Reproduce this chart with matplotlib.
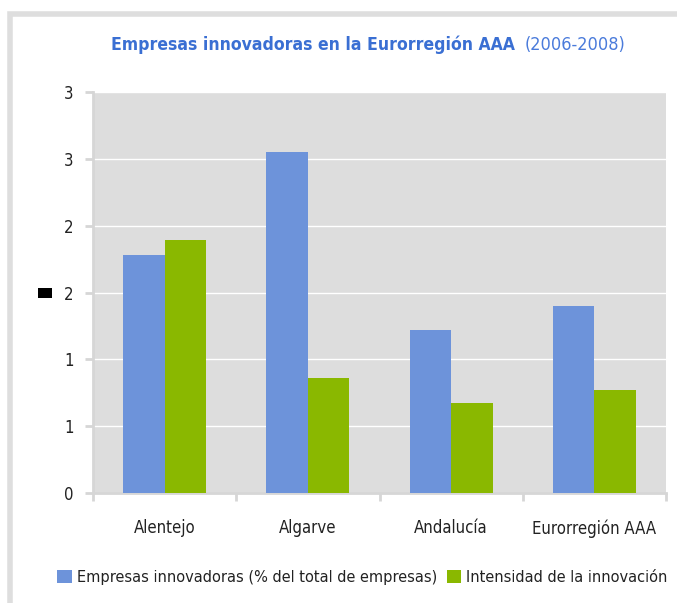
import numpy as np
import matplotlib.pyplot as plt
from matplotlib.patches import Rectangle
from matplotlib import font_manager

# data
regions = ["Alentejo", "Algarve", "Andalucía", "Eurorregión AAA"]
empresas = [1.78, 2.55, 1.22, 1.40]
intensidad = [1.895, 0.86, 0.67, 0.77]
y_ticks = [0, 0.5, 1, 1.5, 2, 2.5, 3]
y_labels = ["0", "1", "1", "2", "2", "3", "3"]

names = {f.name for f in font_manager.fontManager.ttflist}
font = "Liberation Sans Narrow" if "Liberation Sans Narrow" in names else "DejaVu Sans"
plt.rcParams["font.family"] = [font, "DejaVu Sans"]
plt.rcParams["font.stretch"] = "condensed"

blue = "#6d93da"
green = "#8ab800"
grey = "#d6d6d6"

fig = plt.figure(figsize=(6.77, 6.03), dpi=100)

# outer frame (grey border at top and left)
fig.patches.append(Rectangle((10 / 677, -0.05), 1.0, 1.05 - 14 / 603,
                             transform=fig.transFigure, facecolor="white",
                             edgecolor="#dedede", linewidth=4, zorder=-10))

ax = fig.add_axes([93 / 677, 110 / 603, 573 / 677, 401 / 603])
ax.set_facecolor("#dddddd")

x = np.arange(len(regions))
w = 0.29
ax.bar(x - w / 2, empresas, w, color=blue, label="Empresas innovadoras (% del total de empresas)", zorder=3)
ax.bar(x + w / 2, intensidad, w, color=green, label="Intensidad de la innovación", zorder=3)

ax.set_xlim(-0.5, len(regions) - 0.5)
ax.set_ylim(0, 3)
ax.set_yticks(y_ticks)
ax.set_yticklabels(y_labels)
ax.yaxis.grid(True, color="white", linewidth=1, zorder=1)

ax.set_xticks(x)
ax.set_xticklabels(regions)
ax.set_xticks(np.arange(len(regions) + 1) - 0.5, minor=True)
ax.tick_params(axis="x", which="major", length=0, pad=19, labelsize=12, labelcolor="#222222")
ax.tick_params(axis="x", which="minor", length=6, width=2, color=grey)
ax.tick_params(axis="y", length=6, width=2, color=grey, pad=8, labelsize=12, labelcolor="#222222")

for s in ["top", "right"]:
    ax.spines[s].set_visible(False)
for s in ["left", "bottom"]:
    ax.spines[s].set_color(grey)
    ax.spines[s].set_linewidth(2)

fig.text(0.760, 0.925, "Empresas innovadoras en la Eurorregión AAA", color="#3a6fd3",
         fontsize=12.6, fontweight="bold", ha="right", va="center")
fig.text(0.775, 0.925, "(2006-2008)", color="#4a7bdb", fontsize=13, ha="left", va="center")

# small black marker at the left
fig.patches.append(Rectangle((38 / 677, 1 - 298 / 603), 14 / 677, 10 / 603,
                             transform=fig.transFigure, facecolor="black", zorder=5))

ax.legend(loc="upper center", bbox_to_anchor=(0.47, -0.155), ncol=2, frameon=False,
          fontsize=11.7, handlelength=0.9, handleheight=0.9, handletextpad=0.3,
          columnspacing=0.6, labelcolor="#222222")

fig.savefig("out.png", dpi=100)
